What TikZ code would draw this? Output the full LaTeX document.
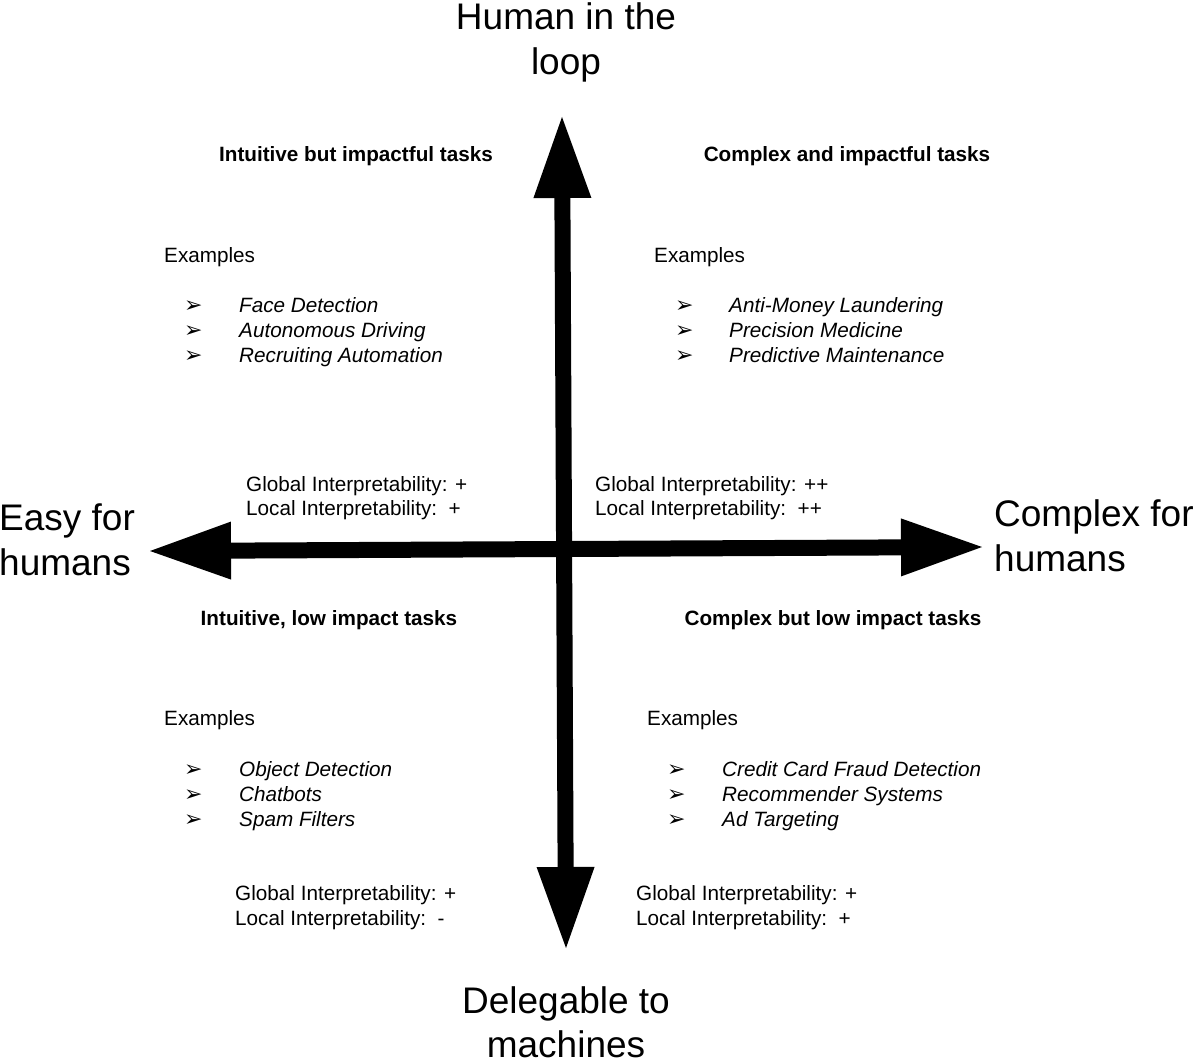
\documentclass[tikz,border=0pt]{standalone}
\usepackage{fontspec}
\setmainfont{Liberation Sans}
\newfontfamily\symfont{DejaVu Sans}
\usetikzlibrary{arrows.meta}
\begin{document}
\begin{tikzpicture}[x=1pt,y=-1pt,
  big/.style={font=\fontsize{37}{45}\selectfont, inner sep=0pt, anchor=base},
  bigl/.style={big, anchor=base west},
  ttl/.style={font=\fontsize{20.7}{25}\selectfont\bfseries, inner sep=0pt, anchor=base},
  txt/.style={font=\fontsize{20.7}{25}\selectfont, inner sep=0pt, anchor=base west},
  itm/.style={txt, font=\fontsize{20.7}{25}\selectfont\itshape},
  bul/.style={inner sep=0pt, anchor=base west, font=\fontsize{22}{26}\selectfont\symfont},
  axis/.style={line width=16pt, {Triangle[length=81pt,width=58pt,line width=0pt]}-{Triangle[length=81pt,width=58pt,line width=0pt]}}
]
\useasboundingbox (0,0) rectangle (1200,1062);
\fill[white] (0,0) rectangle (1200,1062);

% axes
\coordinate (top) at (562,117);
\coordinate (bot) at (566,948);
\coordinate (lft) at (150,551);
\coordinate (rgt) at (982,547);
\draw[axis] (bot) -- (top);
\draw[axis] (lft) -- (rgt);

% axis labels
\node[big] (h1) at (566,30) {Human in the};
\node[big] (h2) at (566,75) {loop};
\node[big] (d1) at (566,1013) {Delegable to};
\node[big] (d2) at (566,1057) {machines};
\node[bigl] (e1) at (-1,530) {Easy for};
\node[bigl] (e2) at (-1,575) {humans};
\node[bigl] (c1) at (994,526) {Complex for};
\node[bigl] (c2) at (994,571) {humans};

% upper left
\node[ttl] (ulT) at (356,161.5) {Intuitive but impactful tasks};
\node[txt] (ulE) at (164,262.5) {Examples};
\node[bul] (ulb1) at (184,312) {➢};
\node[bul] (ulb2) at (184,337) {➢};
\node[bul] (ulb3) at (184,362) {➢};
\node[itm] (uli1) at (239,312) {Face Detection};
\node[itm] (uli2) at (239,337) {Autonomous Driving};
\node[itm] (uli3) at (239,362) {Recruiting Automation};
\node[txt] (ulG) at (246,491) {Global Interpretability: +};
\node[txt] (ulL) at (246,515) {Local Interpretability:\ \ +};

% upper right
\node[ttl] (urT) at (847,161.5) {Complex and impactful tasks};
\node[txt] (urE) at (654,262.5) {Examples};
\node[bul] (urb1) at (675,312) {➢};
\node[bul] (urb2) at (675,337) {➢};
\node[bul] (urb3) at (675,362) {➢};
\node[itm] (uri1) at (729,312) {Anti-Money Laundering};
\node[itm] (uri2) at (729,337) {Precision Medicine};
\node[itm] (uri3) at (729,362) {Predictive Maintenance};
\node[txt] (urG) at (595,491) {Global Interpretability: ++};
\node[txt] (urL) at (595,515) {Local Interpretability:\ \ ++};

% lower left
\node[ttl] (llT) at (329,625.5) {Intuitive, low impact tasks};
\node[txt] (llE) at (164,725.5) {Examples};
\node[bul] (llb1) at (184,776) {➢};
\node[bul] (llb2) at (184,801) {➢};
\node[bul] (llb3) at (184,826) {➢};
\node[itm] (lli1) at (239,776) {Object Detection};
\node[itm] (lli2) at (239,801) {Chatbots};
\node[itm] (lli3) at (239,826) {Spam Filters};
\node[txt] (llG) at (235,900.5) {Global Interpretability: +};
\node[txt] (llL) at (235,925.5) {Local Interpretability:\ \ -};

% lower right
\node[ttl] (lrT) at (833,625.5) {Complex but low impact tasks};
\node[txt] (lrE) at (647,725.5) {Examples};
\node[bul] (lrb1) at (667,776) {➢};
\node[bul] (lrb2) at (667,801) {➢};
\node[bul] (lrb3) at (667,826) {➢};
\node[itm] (lri1) at (722,776) {Credit Card Fraud Detection};
\node[itm] (lri2) at (722,801) {Recommender Systems};
\node[itm] (lri3) at (722,826) {Ad Targeting};
\node[txt] (lrG) at (636,900.5) {Global Interpretability: +};
\node[txt] (lrL) at (636,925.5) {Local Interpretability:\ \ +};
\end{tikzpicture}
\end{document}
